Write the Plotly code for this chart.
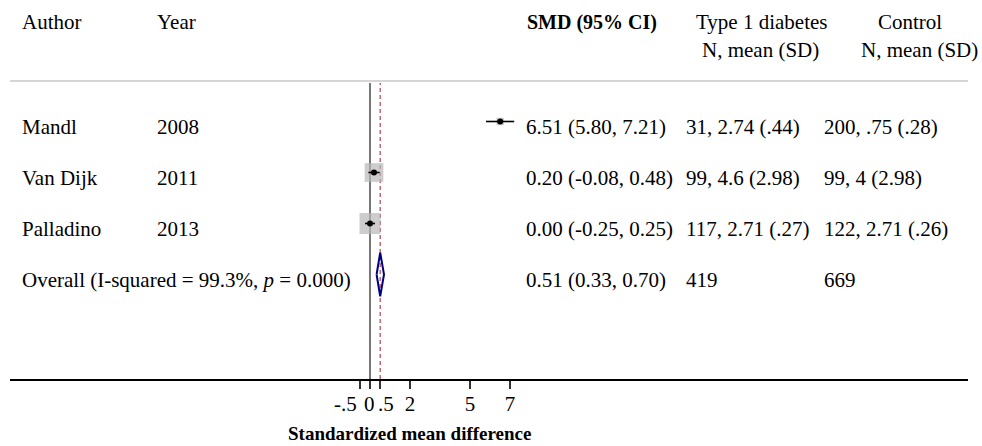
import math
import plotly.graph_objects as go

# ---------------- data ----------------
authors = ["Mandl", "Van Dijk", "Palladino"]
years = ["2008", "2011", "2013"]
smd = [6.51, 0.20, 0.00]
ci_lo = [5.80, -0.08, -0.25]
ci_hi = [7.21, 0.48, 0.25]
weights = [6.5, 41.5, 52.0]
t1d_labels = ["31, 2.74 (.44)", "99, 4.6 (2.98)", "117, 2.71 (.27)"]
ctrl_labels = ["200, .75 (.28)", "99, 4 (2.98)", "122, 2.71 (.26)"]
overall_smd = 0.51
overall_lo = 0.33
overall_hi = 0.70
i_squared = 99.3
p_value = 0.000
t1d_total = 419
ctrl_total = 669
tick_vals = [-0.5, 0, 0.5, 2, 5, 7]
tick_text = ["-.5", "0", ".5", "2", "5", "7"]

# ---------------- layout helpers ----------------
W, H = 982, 446
ML, MR, MT, MB = 10, 14, 0, 67
PW = W - ML - MR
PH = H - MT - MB
FONT = "Liberation Serif"
FS = 21


def px(x):
    return (x - ML) / PW


def py(y):
    return 1 - (y - MT) / PH


rows = list(range(len(authors)))
overall_row = len(authors)

fig = go.Figure()

# weight boxes
maxw = max(weights)
fig.add_trace(go.Scatter(
    x=smd, y=rows, mode="markers",
    marker=dict(symbol="square", size=[21 * math.sqrt(w / maxw) for w in weights],
                color="#b8b8b8", line=dict(width=0)),
    hoverinfo="skip", showlegend=False))

# point estimates with CIs
fig.add_trace(go.Scatter(
    x=smd, y=rows, mode="markers",
    marker=dict(symbol="circle", size=6, color="black"),
    error_x=dict(type="data", symmetric=False,
                 array=[h - s for h, s in zip(ci_hi, smd)],
                 arrayminus=[s - l for s, l in zip(smd, ci_lo)],
                 color="black", thickness=1.6, width=0),
    showlegend=False))

# overall diamond
dh = 0.43
fig.add_trace(go.Scatter(
    x=[overall_lo, overall_smd, overall_hi, overall_smd, overall_lo],
    y=[overall_row, overall_row - dh, overall_row, overall_row + dh, overall_row],
    mode="lines", line=dict(color="#000080", width=2),
    hoverinfo="skip", showlegend=False))

# reference lines
fig.add_shape(type="line", xref="x", yref="paper", x0=0, x1=0, y0=0, y1=py(83),
              line=dict(color="#555555", width=1.6), layer="below")
fig.add_shape(type="line", xref="x", yref="paper", x0=overall_smd, x1=overall_smd,
              y0=0, y1=py(83), line=dict(color="#b5525c", width=1.3, dash="4px,3px"),
              layer="below")
# header separator
fig.add_shape(type="line", xref="paper", yref="paper", x0=0, x1=1, y0=py(81), y1=py(81),
              line=dict(color="#c8c8c8", width=1.5))

ann = []


def text(x, y, s, anchor="left", yref="paper", bold=False, size=FS, yshift=0):
    ann.append(dict(x=px(x), y=y, xref="paper", yref=yref, text=(f"<b>{s}</b>" if bold else s),
                    showarrow=False, xanchor=anchor, yanchor="middle", yshift=yshift,
                    font=dict(family=FONT, size=size, color="black")))


# headers
text(20, py(22), "Author")
text(155, py(22), "Year")
text(525, py(22), "SMD (95% CI)", bold=True, size=20)
text(762, py(22), "Type 1 diabetes", anchor="center")
text(760, py(50), "N, mean (SD)", anchor="center")
text(910, py(22), "Control", anchor="center")
text(919, py(50), "N, mean (SD)", anchor="center")

YS = -5
for i in rows:
    text(20, i, authors[i], yref="y", yshift=YS)
    text(155, i, years[i], yref="y", yshift=YS)
    text(524, i, f"{smd[i]:.2f} ({ci_lo[i]:.2f}, {ci_hi[i]:.2f})", yref="y", yshift=YS)
    text(684, i, t1d_labels[i], yref="y", yshift=YS)
    text(822, i, ctrl_labels[i], yref="y", yshift=YS)

text(20, overall_row, f"Overall (I-squared = {i_squared:.1f}%, <i>p</i> = {p_value:.3f})",
     yref="y", yshift=YS)
text(524, overall_row, f"{overall_smd:.2f} ({overall_lo:.2f}, {overall_hi:.2f})", yref="y", yshift=YS)
text(684, overall_row, str(t1d_total), yref="y", yshift=YS)
text(822, overall_row, str(ctrl_total), yref="y", yshift=YS)

# crowded tick labels near zero: placed beside their ticks so they do not collide
crowded = {-0.5: ("right", -1), 0: ("center", -1), 0.5: ("left", -4)}
axis_ticktext = []
for v, t in zip(tick_vals, tick_text):
    if v in crowded:
        anchor, shift = crowded[v]
        ann.append(dict(x=v, y=py(404), xref="x", yref="paper", text=t, showarrow=False,
                        xanchor=anchor, yanchor="middle", xshift=shift,
                        font=dict(family=FONT, size=FS, color="black")))
        axis_ticktext.append("")
    else:
        axis_ticktext.append(t)

# axis title
ann.append(dict(x=px(409), y=py(433), xref="paper", yref="paper",
                text="<b>Standardized mean difference</b>", showarrow=False,
                xanchor="center", yanchor="middle",
                font=dict(family=FONT, size=19, color="black")))

# axis scale: 20 px per unit, 0 at pixel 370
x0 = (ML - 370) / 20
x1 = (W - MR - 370) / 20
row_top = -121.5 / 51
row_bot = (PH - 121.5) / 51

fig.update_layout(
    width=W, height=H,
    margin=dict(l=ML, r=MR, t=MT, b=MB),
    paper_bgcolor="white", plot_bgcolor="white",
    annotations=ann,
    xaxis=dict(range=[x0, x1], showgrid=False, zeroline=False,
               showline=True, linecolor="black", linewidth=1.5,
               ticks="outside", ticklen=8, tickwidth=1.5, tickcolor="#333333",
               tickvals=tick_vals, ticktext=axis_ticktext, tickangle=0,
               ticklabelstandoff=-3,
               tickfont=dict(family=FONT, size=FS, color="black")),
    yaxis=dict(range=[row_bot, row_top], visible=False, showgrid=False, zeroline=False),
    font=dict(family=FONT, size=FS, color="black"),
)

fig.write_html("out.html")
